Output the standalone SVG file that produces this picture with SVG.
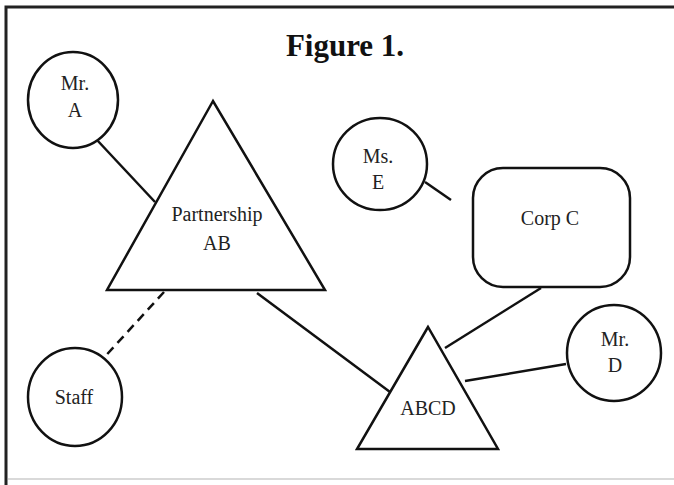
<svg xmlns="http://www.w3.org/2000/svg" width="674" height="485" viewBox="0 0 674 485">
<style>
.s{fill:#fff;stroke:#111;stroke-width:2.5}
.c{stroke:#111;stroke-width:2.5;fill:none}
.t{font-family:"Liberation Serif",serif;font-size:20px;fill:#222;text-anchor:middle}
</style>
<rect x="0" y="0" width="674" height="485" fill="#fff"/>
<path d="M6,485 V7 H674" fill="none" stroke="#222" stroke-width="3"/>
<line x1="8" y1="479" x2="674" y2="479" stroke="#ccc" stroke-width="1.5"/>
<text x="345" y="56" style="font-family:'Liberation Serif',serif;font-size:31px;font-weight:bold;text-anchor:middle;fill:#111">Figure 1.</text>
<g id="connectors">
<line class="c" x1="97" y1="140" x2="155" y2="202"/>
<line class="c" x1="425" y1="182" x2="451" y2="200"/>
<line class="c" x1="541" y1="288" x2="445" y2="348"/>
<line class="c" x1="465" y1="381" x2="566" y2="364"/>
<line class="c" x1="257" y1="293" x2="390" y2="392"/>
<line class="c" x1="164" y1="292" x2="100" y2="362" stroke-dasharray="9,6"/>
</g>
<g id="mrA"><ellipse class="s" cx="73" cy="100" rx="45" ry="48"/><text class="t" x="75" y="90">Mr.</text><text class="t" x="75" y="117">A</text></g>
<g id="partnershipAB"><polygon class="s" points="213,101 107,290 325,290"/><text class="t" x="217" y="221">Partnership</text><text class="t" x="217" y="250">AB</text></g>
<g id="msE"><ellipse class="s" cx="380" cy="164" rx="47" ry="46"/><text class="t" x="378" y="163">Ms.</text><text class="t" x="378" y="189">E</text></g>
<g id="corpC"><rect class="s" x="473" y="168" width="157" height="119" rx="30"/><text class="t" x="550" y="225">Corp C</text></g>
<g id="mrD"><ellipse class="s" cx="614" cy="353" rx="47" ry="48"/><text class="t" x="615" y="346">Mr.</text><text class="t" x="615" y="372">D</text></g>
<g id="abcd"><polygon class="s" points="428,327 357,449 498,449"/><text class="t" x="428" y="415">ABCD</text></g>
<g id="staff"><ellipse class="s" cx="75" cy="397" rx="47" ry="49"/><text class="t" x="74" y="404">Staff</text></g>
</svg>
